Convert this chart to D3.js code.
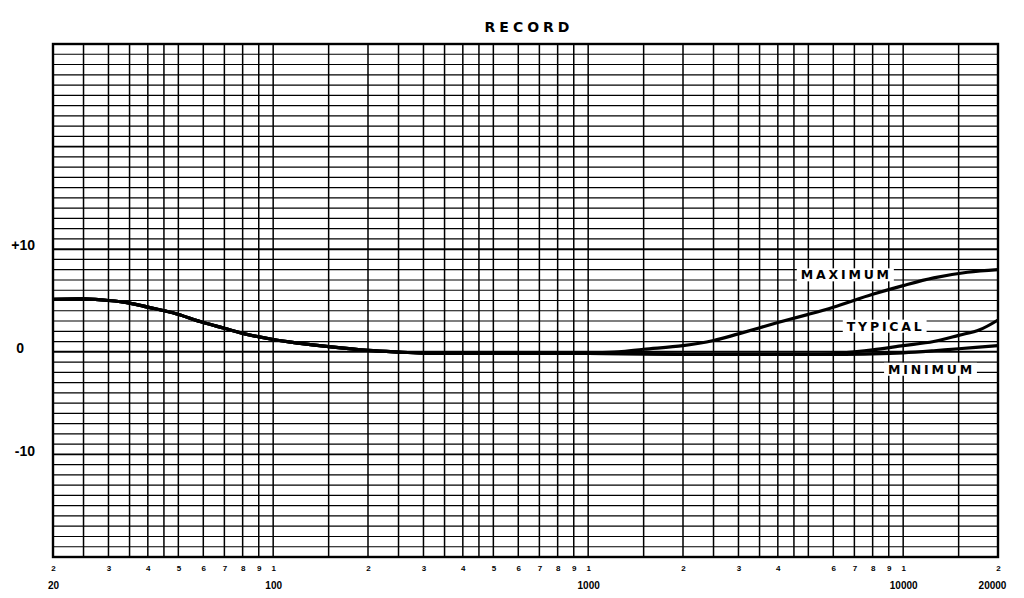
<!DOCTYPE html>
<html>
<head>
<meta charset="utf-8">
<script src="https://cdn.jsdelivr.net/npm/d3@7"></script>
<style>
	body { margin: 0; background: #fff; }
	svg { display: block; font-family: "DejaVu Sans", "Liberation Sans", sans-serif; font-weight: bold; }
	.grid line { stroke: #000; }
	.axis path, .axis line { display: none; }
	.axis text { fill: #000; font-weight: bold; }
</style>
</head>
<body>
<div class="chart"></div>
<script>

	// --- data ---
	var TITLE = "RECORD";

	var maxFreq = [20, 25, 30, 35, 40, 48, 60, 70, 80, 100, 120, 150, 200, 250, 300, 500, 800, 1000,
		1250, 1500, 2000, 2500, 3000, 4000, 5000, 6000, 8000, 10000, 12500, 16000, 20000];
	var maxDb = [5.1, 5.15, 5.0, 4.75, 4.35, 3.8, 2.85, 2.3, 1.8, 1.2, 0.85, 0.5, 0.13, -0.03, -0.12, -0.15, -0.15, -0.1,
		0.0, 0.25, 0.6, 1.1, 1.75, 2.85, 3.65, 4.35, 5.6, 6.45, 7.2, 7.75, 8.0];

	var typFreq = [20, 25, 30, 35, 40, 48, 60, 70, 80, 100, 120, 150, 200, 250, 300, 500, 800, 1000,
		1500, 2000, 3000, 4000, 5000, 6000, 7000, 8000, 10000, 12500, 15000, 17500, 20000];
	var typDb = [5.1, 5.15, 5.0, 4.75, 4.35, 3.8, 2.85, 2.3, 1.8, 1.2, 0.85, 0.5, 0.13, -0.03, -0.12, -0.15, -0.15, -0.15,
		-0.2, -0.25, -0.25, -0.25, -0.25, -0.2, 0.0, 0.2, 0.6, 1.0, 1.6, 2.15, 3.1];

	var minFreq = [20, 25, 30, 35, 40, 48, 60, 70, 80, 100, 120, 150, 200, 250, 300, 500, 800, 1000,
		1500, 2000, 3000, 4000, 5000, 6000, 8000, 10000, 12500, 15000, 20000];
	var minDb = [5.1, 5.15, 5.0, 4.75, 4.35, 3.8, 2.85, 2.3, 1.8, 1.2, 0.85, 0.5, 0.13, -0.03, -0.12, -0.15, -0.15, -0.15,
		-0.2, -0.25, -0.25, -0.25, -0.25, -0.25, -0.2, -0.1, 0.1, 0.3, 0.6];

	// curve labels: text, anchor frequency and dB level
	var labelText = ["MAXIMUM", "TYPICAL", "MINIMUM"];
	var labelFreq = [6600, 8800, 12300];
	var labelDb = [7.5, 2.5, -1.7];

	// graph paper rulings
	var gridSteps = [1, 1.5, 2, 2.5, 3, 3.5, 4, 4.5, 5, 6, 7, 8, 9];
	var decades = [10, 100, 1000, 10000];

	var xTicks = [20, 30, 40, 50, 60, 70, 80, 90, 100, 200, 300, 400, 500, 600, 700, 800, 900, 1000,
		2000, 3000, 4000, 6000, 7000, 8000, 9000, 10000, 20000];
	var xDecadeTicks = [20, 100, 1000, 10000, 20000];
	var yTicks = [10, 0, -10];

	var margin = { top : 44, right : 26, bottom : 41, left : 53 },
		W = 1024, H = 598,
		width = W - margin.left - margin.right,
		height = H - margin.top - margin.bottom;

	var svg = d3.select(".chart").append("svg")
		.attr("width", W)
		.attr("height", H);

	var g = svg.append("g")
		.attr("transform", "translate(" + margin.left + "," + margin.top + ")");

	var x = d3.scaleLog().domain([20, 20000]).range([0, width]);
	var y = d3.scaleLinear().domain([-20, 30]).range([height, 0]);

	// horizontal rulings, one per dB
	var grid = g.append("g").attr("class", "grid");
	grid.selectAll(".h")
		.data(d3.range(-20, 31))
		.enter().append("line")
		.attr("class", "h")
		.attr("x1", 0).attr("x2", width)
		.attr("y1", function ( d ) { return y(d); })
		.attr("y2", function ( d ) { return y(d); })
		.attr("stroke-width", function ( d ) { return d % 10 === 0 ? 1.9 : 1.2; });

	// vertical rulings
	var vLines = [];
	decades.forEach(function ( dec ) {
		gridSteps.forEach(function ( s ) {
			var f = dec * s;
			if ( f >= 20 && f <= 20000 ) vLines.push(f);
		});
	});
	vLines.push(20000);

	grid.selectAll(".v")
		.data(vLines)
		.enter().append("line")
		.attr("class", "v")
		.attr("y1", 0).attr("y2", height)
		.attr("x1", function ( d ) { return x(d); })
		.attr("x2", function ( d ) { return x(d); })
		.attr("stroke-width", 1.5);

	// frame
	g.append("rect")
		.attr("width", width).attr("height", height)
		.attr("fill", "none")
		.attr("stroke", "#000")
		.attr("stroke-width", 2.4);

	// curves
	var line = d3.line()
		.x(function ( d ) { return x(d[0]); })
		.y(function ( d ) { return y(d[1]); })
		.curve(d3.curveCatmullRom.alpha(0.5));

	var series = [
		d3.zip(maxFreq, maxDb),
		d3.zip(typFreq, typDb),
		d3.zip(minFreq, minDb)
	];

	g.selectAll(".curve")
		.data(series)
		.enter().append("path")
		.attr("class", "curve")
		.attr("d", line)
		.attr("fill", "none")
		.attr("stroke", "#000")
		.attr("stroke-width", 3.2);

	// curve labels with paper-white boxes
	labelText.forEach(function ( t, i ) {
		var lg = g.append("g");
		var txt = lg.append("text")
			.attr("x", x(labelFreq[i]))
			.attr("y", y(labelDb[i]))
			.attr("dy", "0.36em")
			.attr("text-anchor", "middle")
			.attr("font-size", 12.5)
			.attr("letter-spacing", 2.8)
			.attr("fill", "#000")
			.text(t);
		var bb = txt.node().getBBox();
		lg.insert("rect", "text")
			.attr("x", bb.x - 4).attr("y", bb.y + 1)
			.attr("width", bb.width + 6).attr("height", bb.height - 2)
			.attr("fill", "#fff");
	});

	// title
	svg.append("text")
		.attr("x", 529)
		.attr("y", 32)
		.attr("text-anchor", "middle")
		.attr("font-size", 14)
		.attr("letter-spacing", 4)
		.attr("fill", "#000")
		.text(TITLE);

	// y axis labels
	var yAxis = g.append("g").attr("class", "axis")
		.attr("transform", "translate(-15,0)")
		.call(d3.axisLeft(y).tickValues(yTicks).tickSize(0)
			.tickFormat(function ( d ) { return d > 0 ? "+" + d : String(d); }));
	yAxis.selectAll("text").attr("font-size", 14).attr("dy", "0.05em");
	yAxis.selectAll("text").filter(function ( d ) { return d === 0; }).attr("dx", -11);

	// x axis: leading digit of every ruling
	var xAxis = g.append("g").attr("class", "axis")
		.attr("transform", "translate(0," + height + ")")
		.call(d3.axisBottom(x).tickValues(xTicks).tickSize(0).tickPadding(8)
			.tickFormat(function ( d ) { return String(d).charAt(0); }));
	xAxis.selectAll("text").attr("font-size", 8);

	// x axis: decade values
	var xAxis2 = g.append("g").attr("class", "axis")
		.attr("transform", "translate(0," + (height + 21) + ")")
		.call(d3.axisBottom(x).tickValues(xDecadeTicks).tickSize(0).tickPadding(4)
			.tickFormat(function ( d ) { return String(d); }));
	xAxis2.selectAll("text").attr("font-size", 10);
	xAxis2.selectAll("text").filter(function ( d ) { return d === 20000; }).attr("dx", -6);

</script>
</body>
</html>
